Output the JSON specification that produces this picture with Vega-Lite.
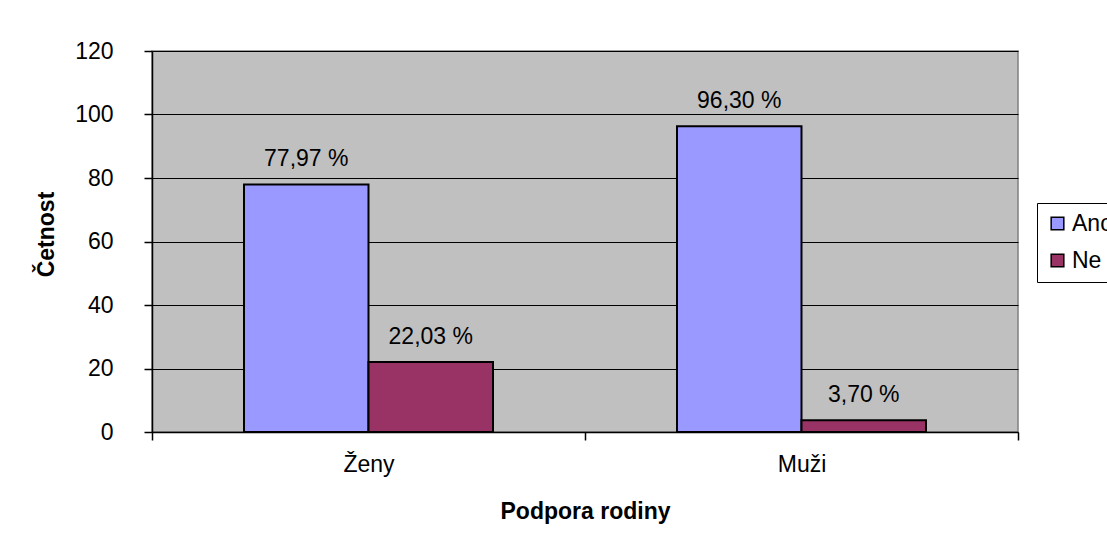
{
  "$schema": "https://vega.github.io/schema/vega-lite/v6.json",
  "autosize": {"type": "none"},
  "padding": {"left": 152, "top": 51, "right": 89, "bottom": 111},
  "width": 866,
  "height": 381,
  "background": "white",
  "config": {
    "font": "Liberation Sans",
    "view": {"fill": "#C0C0C0", "stroke": "#808080", "strokeWidth": 1.5},
    "axis": {
      "labelFont": "Liberation Sans",
      "titleFont": "Liberation Sans",
      "labelFontSize": 23,
      "titleFontSize": 23,
      "labelColor": "black",
      "titleColor": "black",
      "domainColor": "black",
      "tickColor": "black",
      "domainWidth": 1.5,
      "tickWidth": 1.5,
      "tickSize": 8
    }
  },
  "data": {
    "values": [
      {"skupina": "Ženy", "odpoved": "Ano", "procento": 77.97},
      {"skupina": "Ženy", "odpoved": "Ne", "procento": 22.03},
      {"skupina": "Muži", "odpoved": "Ano", "procento": 96.30},
      {"skupina": "Muži", "odpoved": "Ne", "procento": 3.70}
    ]
  },
  "transform": [
    {"calculate": "replace(format(datum.procento, '.2f'), '.', ',') + ' %'", "as": "popisek"}
  ],
  "encoding": {
    "x": {
      "field": "skupina",
      "type": "nominal",
      "sort": ["Ženy", "Muži"],
      "scale": {"paddingInner": 0, "paddingOuter": 0},
      "axis": {
        "title": "Podpora rodiny",
        "titleFontWeight": "bold",
        "titlePadding": 24,
        "labelAngle": 0,
        "labelPadding": 13,
        "tickBand": "extent",
        "grid": false
      }
    },
    "xOffset": {
      "field": "odpoved",
      "type": "nominal",
      "sort": ["Ano", "Ne"],
      "scale": {"paddingInner": 0, "paddingOuter": 0.739}
    },
    "y": {
      "field": "procento",
      "type": "quantitative",
      "scale": {"domain": [0, 120], "nice": false},
      "axis": {
        "title": "Četnost",
        "titleFontWeight": "bold",
        "titleAngle": -90,
        "titleX": -99,
        "titleY": 183,
        "titleAlign": "center",
        "titleBaseline": "alphabetic",
        "values": [0, 20, 40, 60, 80, 100, 120],
        "labelPadding": 31,
        "grid": true,
        "gridColor": "black",
        "gridWidth": 1.2,
        "gridOpacity": 1
      }
    }
  },
  "layer": [
    {
      "mark": {"type": "bar", "stroke": "black", "strokeWidth": 2, "cornerRadius": 0},
      "encoding": {
        "color": {
          "field": "odpoved",
          "type": "nominal",
          "sort": ["Ano", "Ne"],
          "scale": {"domain": ["Ano", "Ne"], "range": ["#9999FF", "#993366"]},
          "legend": {
            "title": null,
            "orient": "none",
            "legendX": 885,
            "legendY": 152,
            "symbolType": "square",
            "symbolSize": 160,
            "symbolStrokeColor": "black",
            "symbolStrokeWidth": 1.5,
            "symbolOpacity": 1,
            "labelFont": "Liberation Sans",
            "labelFontSize": 23,
            "labelColor": "black",
            "labelOffset": 3,
            "rowPadding": 13,
            "padding": 9,
            "strokeColor": "black",
            "fillColor": "white",
            "cornerRadius": 0
          }
        }
      }
    },
    {
      "mark": {"type": "text", "baseline": "alphabetic", "align": "center", "dy": -18, "fontSize": 23, "font": "Liberation Sans", "color": "black"},
      "encoding": {"text": {"field": "popisek"}}
    }
  ]
}
